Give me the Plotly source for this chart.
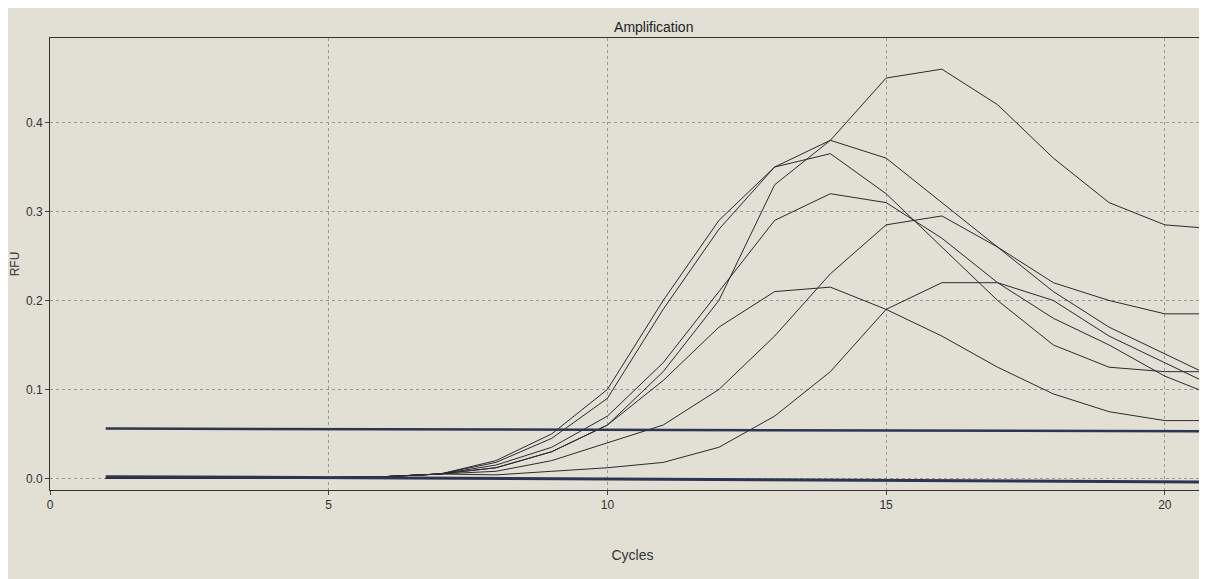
import plotly.graph_objects as go

cycles = list(range(1, 22))
base = [0.0, 0.0, 0.0, 0.0, 0.001, 0.002, 0.005]
curve_a = base + [0.012, 0.03, 0.06, 0.12, 0.2, 0.33, 0.38, 0.45, 0.46, 0.42, 0.36, 0.31, 0.285, 0.28]
curve_b = base + [0.02, 0.05, 0.1, 0.2, 0.29, 0.35, 0.38, 0.36, 0.31, 0.26, 0.21, 0.17, 0.14, 0.11]
curve_c = base + [0.018, 0.045, 0.09, 0.19, 0.28, 0.35, 0.365, 0.32, 0.26, 0.2, 0.15, 0.125, 0.12, 0.12]
curve_d = base + [0.015, 0.035, 0.07, 0.13, 0.21, 0.29, 0.32, 0.31, 0.27, 0.22, 0.18, 0.15, 0.115, 0.09]
curve_e = base + [0.008, 0.02, 0.04, 0.06, 0.1, 0.16, 0.23, 0.285, 0.295, 0.26, 0.22, 0.2, 0.185, 0.185]
curve_f = base + [0.012, 0.03, 0.06, 0.11, 0.17, 0.21, 0.215, 0.19, 0.16, 0.125, 0.095, 0.075, 0.065, 0.065]
curve_g = base + [0.004, 0.008, 0.012, 0.018, 0.035, 0.07, 0.12, 0.19, 0.22, 0.22, 0.2, 0.16, 0.13, 0.1]
curves = [curve_a, curve_b, curve_c, curve_d, curve_e, curve_f, curve_g]
threshold_x = [1, 21]
threshold_y = [0.056, 0.053]
baseline_y = [0.002, -0.004]

fig = go.Figure()
for c in curves:
    fig.add_trace(go.Scatter(x=cycles, y=c, mode="lines", line=dict(color="#2a2a30", width=1)))
fig.add_trace(go.Scatter(x=threshold_x, y=threshold_y, mode="lines", line=dict(color="#2d3550", width=2.5)))
fig.add_trace(go.Scatter(x=threshold_x, y=baseline_y, mode="lines", line=dict(color="#2d3550", width=3)))

fig.update_layout(
    width=1207, height=579, showlegend=False,
    paper_bgcolor="#e2dfd5", plot_bgcolor="#e2dfd5",
    margin=dict(l=42, r=0, t=30, b=97),
    title=dict(text="Amplification", x=0.535, y=0.975, font=dict(size=14, color="#222", family="Liberation Sans Narrow, Arial")),
    font=dict(family="Liberation Sans, Arial", color="#333", size=12),
)
fig.update_xaxes(range=[0, 20.9], tickvals=[0, 5, 10, 15, 20], showgrid=True, gridcolor="#999",
                 griddash="dot", zeroline=False, showline=True, linecolor="#333", mirror=True,
                 ticks="outside", ticklen=4, title=dict(text="Cycles", font=dict(size=14), standoff=38))
fig.update_yaxes(range=[-0.013, 0.495], tickvals=[0, 0.1, 0.2, 0.3, 0.4], tickformat=".1f",
                 showgrid=True, gridcolor="#999", griddash="dot", zeroline=False, showline=True,
                 linecolor="#333", mirror=True, ticks="outside", ticklen=4,
                 title=dict(text="RFU", font=dict(size=12), standoff=8))
fig.write_html("out.html")
